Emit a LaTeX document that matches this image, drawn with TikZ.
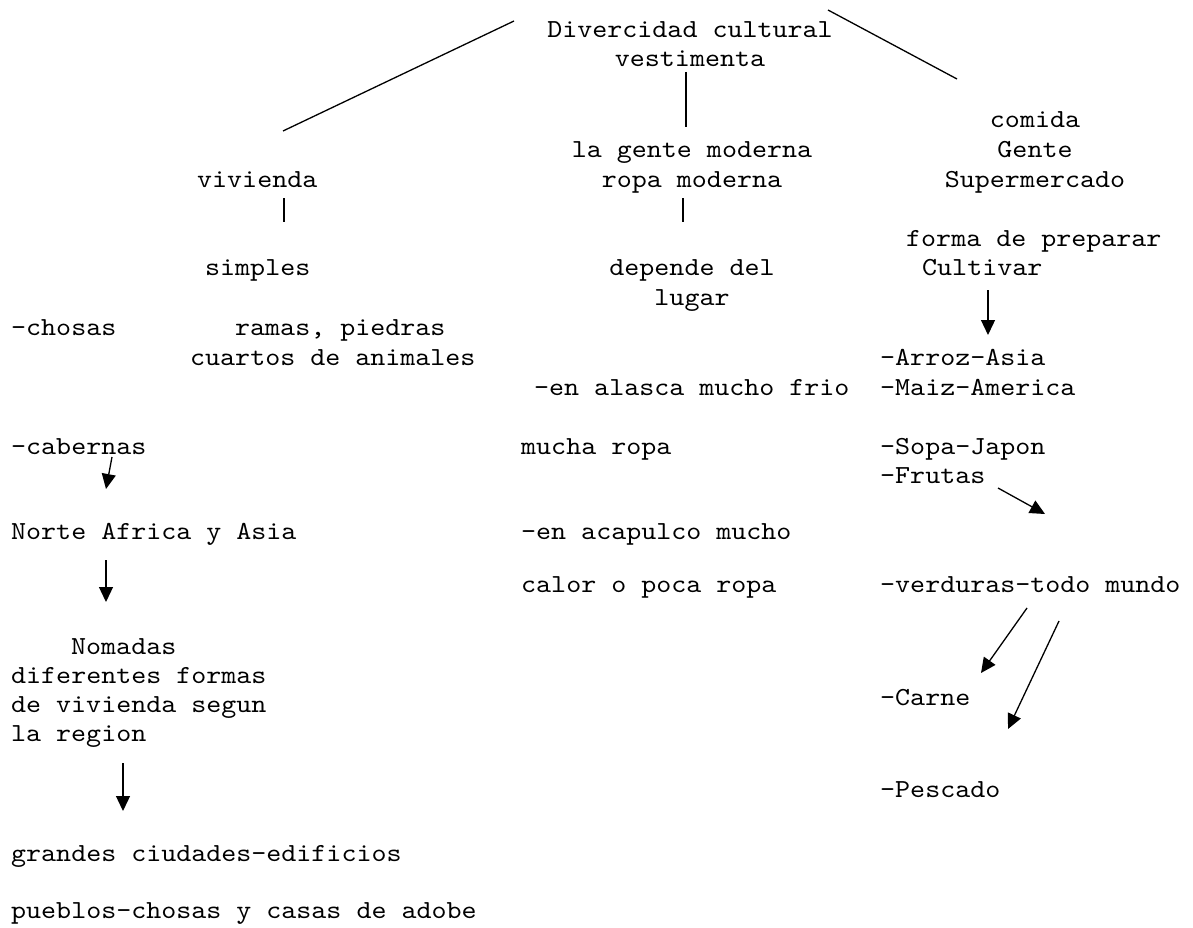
\documentclass[tikz,border=0pt]{standalone}
\usepackage{fontspec}
\newfontfamily\courtt{lmmono10-regular.otf}[FakeStretch=1.1]
\usetikzlibrary{arrows.meta}
\tikzset{
  txt/.style={anchor=base west,inner sep=0pt,font=\courtt\fontsize{26}{30}\selectfont},
  ctxt/.style={txt,anchor=base},
  link/.style={line width=1.3pt},
  arr/.style={line width=1.3pt,-{Triangle[length=15pt,width=14pt]}}
}
\begin{document}
\begin{tikzpicture}[x=1pt,y=-1pt]
\useasboundingbox (0,0) rectangle (1193,928);
% top
\node[ctxt] (dc1) at (690,38) {Divercidad cultural};
\node[ctxt] (dc2) at (690,67) {vestimenta};
% vivienda
\node[txt] (viv) at (197,188) {vivienda};
\node[txt] (simp) at (205,275) {simples};
\node[txt] (chos) at (11,335) {-chosas};
\node[txt] (ram1) at (235,335) {ramas, piedras};
\node[txt] (ram2) at (190,365) {cuartos de animales};
\node[txt] (cab) at (11,454) {-cabernas};
\node[txt] (nor) at (11,539) {Norte Africa y Asia};
\node[txt] (nom1) at (71,654) {Nomadas};
\node[txt] (nom2) at (11,683) {diferentes formas};
\node[txt] (nom3) at (11,712) {de vivienda segun};
\node[txt] (nom4) at (11,741) {la region};
\node[txt] (gra) at (11,861) {grandes ciudades-edificios};
\node[txt] (pue) at (11,918) {pueblos-chosas y casas de adobe};
% vestimenta
\node[ctxt] (mod1) at (692,158) {la gente moderna};
\node[ctxt] (mod2) at (692,188) {ropa moderna};
\node[ctxt] (dep1) at (692,275) {depende del};
\node[ctxt] (dep2) at (692,305) {lugar};
\node[txt] (ala) at (534,395) {-en alasca mucho frio};
\node[txt] (muc) at (521,454) {mucha ropa};
\node[txt] (aca) at (521,539) {-en acapulco mucho};
\node[txt] (cal) at (521,592) {calor o poca ropa};
% comida
\node[ctxt] (com1) at (1035,128) {comida};
\node[ctxt] (com2) at (1035,158) {Gente};
\node[ctxt] (com3) at (1035,188) {Supermercado};
\node[txt] (for1) at (906,246) {forma de preparar};
\node[txt] (for2) at (922,275) {Cultivar};
\node[txt] (arr) at (880,365) {-Arroz-Asia};
\node[txt] (mai) at (880,395) {-Maiz-America};
\node[txt] (sop) at (880,454) {-Sopa-Japon};
\node[txt] (fru) at (880,483) {-Frutas};
\node[txt] (ver) at (880,592) {-verduras-todo mundo};
\node[txt] (car) at (880,705) {-Carne};
\node[txt] (pes) at (880,797) {-Pescado};
% ends of the connectors
\coordinate (t1) at (514,21);
\coordinate (t2) at (283,131);
\coordinate (t3) at (828,10);
\coordinate (t4) at (957,79);
\coordinate (t5) at (686,72);
\coordinate (t6) at (686,127);
\coordinate (v1) at (284,198);
\coordinate (v2) at (284,222);
\coordinate (m1) at (683,198);
\coordinate (m2) at (683,222);
\coordinate (c1) at (988,290);
\coordinate (c2) at (988,335);
\coordinate (k1) at (112,457);
\coordinate (k2) at (106,489);
\coordinate (n1) at (106,560);
\coordinate (n2) at (106,602);
\coordinate (r1) at (123,763);
\coordinate (r2) at (123,811);
\coordinate (f1) at (998,488);
\coordinate (f2) at (1045,514);
\coordinate (w1) at (1027,608);
\coordinate (w2) at (981,673);
\coordinate (w3) at (1059,621);
\coordinate (w4) at (1008,729);
\draw[link] (t1) -- (t2);
\draw[link] (t3) -- (t4);
\draw[link] (t5) -- (t6);
\draw[link] (v1) -- (v2);
\draw[link] (m1) -- (m2);
\draw[arr] (c1) -- (c2);
\draw[arr] (k1) -- (k2);
\draw[arr] (n1) -- (n2);
\draw[arr] (r1) -- (r2);
\draw[arr] (f1) -- (f2);
\draw[arr] (w1) -- (w2);
\draw[arr] (w3) -- (w4);
\end{tikzpicture}
\end{document}
